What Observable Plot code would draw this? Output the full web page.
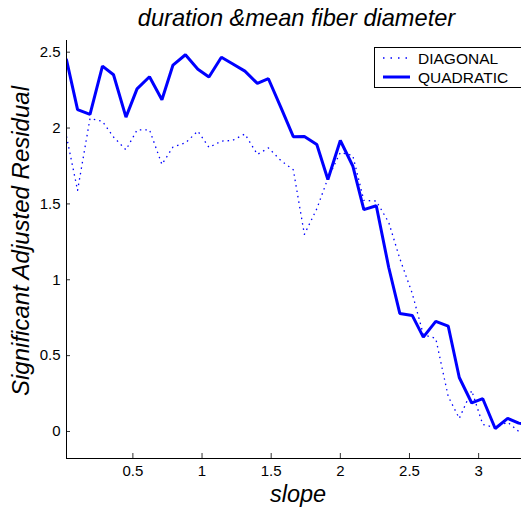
<!DOCTYPE html>
<html>
<head>
<meta charset="utf-8">
<script src="https://cdn.jsdelivr.net/npm/d3@7"></script>
<script src="https://cdn.jsdelivr.net/npm/@observablehq/plot@0.6"></script>
<style>
  html, body { margin: 0; padding: 0; background: #fff; }
  svg { display: block; }
</style>
</head>
<body>
<div id="chart"></div>
<script>
// ---- data ----
const slope = [0.02, 0.10, 0.19, 0.28, 0.36, 0.45, 0.53, 0.62, 0.71, 0.79,
               0.88, 0.97, 1.05, 1.14, 1.22, 1.31, 1.40, 1.48, 1.57, 1.66,
               1.74, 1.83, 1.91, 2.00, 2.09, 2.17, 2.26, 2.35, 2.43, 2.52,
               2.60, 2.69, 2.78, 2.86, 2.95, 3.03, 3.12, 3.21, 3.29, 3.38];
const diagonal = [1.945, 1.589, 2.063, 2.044, 1.941, 1.856, 1.987, 1.989, 1.760, 1.875,
                  1.902, 1.980, 1.872, 1.914, 1.918, 1.961, 1.826, 1.869, 1.786, 1.725,
                  1.299, 1.468, 1.668, 1.839, 1.819, 1.523, 1.519, 1.378, 1.140, 0.910,
                  0.639, 0.613, 0.231, 0.086, 0.270, 0.046, 0.026, 0.061, 0.000, -0.020];
const quadratic = [2.450, 2.121, 2.090, 2.408, 2.351, 2.072, 2.258, 2.338, 2.187, 2.415,
                   2.483, 2.388, 2.336, 2.467, 2.424, 2.375, 2.294, 2.325, 2.136, 1.943,
                   1.945, 1.892, 1.661, 1.918, 1.750, 1.462, 1.488, 1.081, 0.778, 0.765,
                   0.622, 0.726, 0.695, 0.356, 0.188, 0.216, 0.020, 0.086, 0.055, 0.040];
const seriesNames = ["DIAGONAL", "QUADRATIC"];
const xTicks = [0.5, 1, 1.5, 2, 2.5, 3];
const yTicks = [0, 0.5, 1, 1.5, 2, 2.5];
const titleText = "duration &mean fiber diameter";
const xLabel = "slope";
const yLabel = "Significant Adjusted Residual";

const xDomain = [0.02, 3.31];
const yDomain = [-0.178, 2.577];

const diagData = slope.map((x, i) => ({x, y: diagonal[i]}));
const quadData = slope.map((x, i) => ({x, y: quadratic[i]}));

const FONT = "'Liberation Sans', Arial, Helvetica, sans-serif";

const plot = Plot.plot({
  width: 521,
  height: 511,
  marginLeft: 66,
  marginRight: 0,
  marginTop: 40,
  marginBottom: 53,
  style: {fontFamily: FONT, background: "#fff", overflow: "visible"},
  x: {domain: xDomain},
  y: {domain: yDomain},
  marks: [
    Plot.line(diagData, {x: "x", y: "y", stroke: "#0000ff", strokeWidth: 1.3,
      strokeDasharray: "1.5 4", strokeLinecap: "butt", clip: true}),
    Plot.line(quadData, {x: "x", y: "y", stroke: "#0000ff", strokeWidth: 3,
      strokeLinejoin: "miter", clip: true}),
    Plot.axisX({ticks: xTicks, tickSize: -5, tickFormat: () => "", label: null, stroke: "#333"}),
    Plot.axisX({ticks: xTicks, tickSize: 0, tickPadding: 7, fontSize: 15, label: null,
      tickFormat: d => String(d), fill: "#000"}),
    Plot.axisY({ticks: yTicks, tickSize: -4, tickFormat: () => "", label: null, stroke: "#333"}),
    Plot.axisY({ticks: yTicks, tickSize: 0, tickPadding: 6, fontSize: 15, label: null,
      tickFormat: d => String(d), fill: "#000"}),
    Plot.ruleX([xDomain[0]], {stroke: "#000", strokeWidth: 1}),
    Plot.ruleY([yDomain[0]], {stroke: "#000", strokeWidth: 1})
  ]
});

document.getElementById("chart").appendChild(plot);
const svg = d3.select(plot);

// title
svg.append("text")
  .attr("x", 296.5).attr("y", 26)
  .attr("text-anchor", "middle")
  .style("font-family", FONT).style("font-style", "italic").style("font-size", "23.6px")
  .attr("fill", "#000")
  .text(titleText);

// x label
svg.append("text")
  .attr("x", 298).attr("y", 502)
  .attr("text-anchor", "middle")
  .style("font-family", FONT).style("font-style", "italic").style("font-size", "23.5px")
  .attr("fill", "#000")
  .text(xLabel);

// y label
svg.append("text")
  .attr("transform", "translate(29,241) rotate(-90)")
  .attr("text-anchor", "middle")
  .style("font-family", FONT).style("font-style", "italic").style("font-size", "24px")
  .attr("fill", "#000")
  .text(yLabel);

// legend
const lg = svg.append("g").attr("text-anchor", "start");
lg.append("rect")
  .attr("x", 374.5).attr("y", 47.5).attr("width", 160).attr("height", 40)
  .attr("fill", "#fff").attr("stroke", "#000").attr("stroke-width", 1);
const legendRows = [
  {name: seriesNames[0], y: 58, width: 1.3, dash: "1.5 6"},
  {name: seriesNames[1], y: 77, width: 3, dash: null}
];
legendRows.forEach(r => {
  const ln = lg.append("line")
    .attr("x1", 383).attr("x2", 410).attr("y1", r.y).attr("y2", r.y)
    .attr("stroke", "#0000ff").attr("stroke-width", r.width);
  if (r.dash) ln.attr("stroke-dasharray", r.dash);
  lg.append("text")
    .attr("x", 418).attr("y", r.y + 5.5)
    .attr("text-anchor", "start")
    .style("font-family", FONT).style("font-size", "15.5px")
    .attr("fill", "#000")
    .text(r.name);
});
</script>
</body>
</html>
